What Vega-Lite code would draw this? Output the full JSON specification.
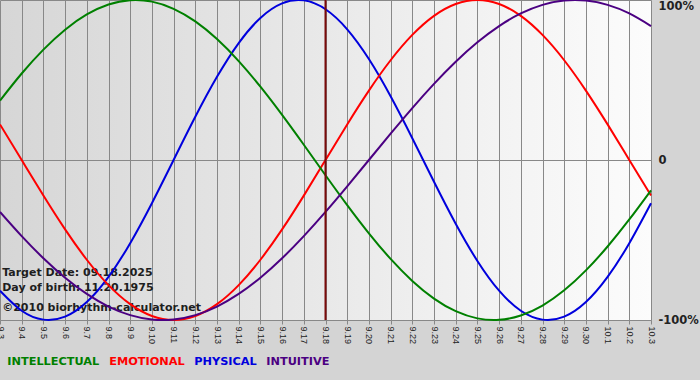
{
  "$schema": "https://vega.github.io/schema/vega-lite/v6.json",
  "width": 651,
  "height": 320,
  "autosize": {"type": "none"},
  "padding": {"left": 0, "top": 0, "right": 49, "bottom": 60},
  "background": "#d4d4d4",
  "config": {
    "view": {
      "stroke": null,
      "fill": {"gradient": "linear", "x1": 0, "y1": 0, "x2": 1, "y2": 0,
        "stops": [{"offset": 0, "color": "#d6d6d6"}, {"offset": 1, "color": "#fcfcfc"}]}
    },
    "axisX": {
      "labelAngle": 90, "labelFont": "Liberation Sans", "labelFontSize": 9, "labelColor": "#222222",
      "labelOverlap": false, "labelBound": false, "labelFlush": false, "labelPadding": 2,
      "tickSize": 4, "tickColor": "#888888", "domainColor": "#888888",
      "grid": true, "gridColor": "#888888", "gridOpacity": 1, "title": null
    },
    "axisY": {
      "labelFont": "DejaVu Sans", "labelFontWeight": "bold", "labelFontSize": 11.5, "labelColor": "#222222",
      "ticks": false, "domain": false, "labelPadding": 7, "labelFlush": false, "labelBound": false,
      "grid": true, "gridColor": "#888888", "gridOpacity": 1, "title": null
    }
  },
  "datasets": {
    "bio": [
      {"d":0,"s":"PHYSICAL","v":-0.817},{"d":1,"s":"PHYSICAL","v":-0.9423},{"d":2,"s":"PHYSICAL","v":-0.9977},{"d":3,"s":"PHYSICAL","v":-0.9791},{"d":4,"s":"PHYSICAL","v":-0.8879},{"d":5,"s":"PHYSICAL","v":-0.7308},{"d":6,"s":"PHYSICAL","v":-0.5196},{"d":7,"s":"PHYSICAL","v":-0.2698},{"d":8,"s":"PHYSICAL","v":0},{"d":9,"s":"PHYSICAL","v":0.2698},{"d":10,"s":"PHYSICAL","v":0.5196},{"d":11,"s":"PHYSICAL","v":0.7308},{"d":12,"s":"PHYSICAL","v":0.8879},{"d":13,"s":"PHYSICAL","v":0.9791},{"d":14,"s":"PHYSICAL","v":0.9977},{"d":15,"s":"PHYSICAL","v":0.9423},{"d":16,"s":"PHYSICAL","v":0.817},{"d":17,"s":"PHYSICAL","v":0.6311},{"d":18,"s":"PHYSICAL","v":0.3984},{"d":19,"s":"PHYSICAL","v":0.1362},{"d":20,"s":"PHYSICAL","v":-0.1362},{"d":21,"s":"PHYSICAL","v":-0.3984},{"d":22,"s":"PHYSICAL","v":-0.6311},{"d":23,"s":"PHYSICAL","v":-0.817},{"d":24,"s":"PHYSICAL","v":-0.9423},{"d":25,"s":"PHYSICAL","v":-0.9977},{"d":26,"s":"PHYSICAL","v":-0.9791},{"d":27,"s":"PHYSICAL","v":-0.8879},{"d":28,"s":"PHYSICAL","v":-0.7308},{"d":29,"s":"PHYSICAL","v":-0.5196},{"d":30,"s":"PHYSICAL","v":-0.2698},
      {"d":0,"s":"EMOTIONAL","v":0.2225},{"d":1,"s":"EMOTIONAL","v":0},{"d":2,"s":"EMOTIONAL","v":-0.2225},{"d":3,"s":"EMOTIONAL","v":-0.4339},{"d":4,"s":"EMOTIONAL","v":-0.6235},{"d":5,"s":"EMOTIONAL","v":-0.7818},{"d":6,"s":"EMOTIONAL","v":-0.901},{"d":7,"s":"EMOTIONAL","v":-0.9749},{"d":8,"s":"EMOTIONAL","v":-1},{"d":9,"s":"EMOTIONAL","v":-0.9749},{"d":10,"s":"EMOTIONAL","v":-0.901},{"d":11,"s":"EMOTIONAL","v":-0.7818},{"d":12,"s":"EMOTIONAL","v":-0.6235},{"d":13,"s":"EMOTIONAL","v":-0.4339},{"d":14,"s":"EMOTIONAL","v":-0.2225},{"d":15,"s":"EMOTIONAL","v":0},{"d":16,"s":"EMOTIONAL","v":0.2225},{"d":17,"s":"EMOTIONAL","v":0.4339},{"d":18,"s":"EMOTIONAL","v":0.6235},{"d":19,"s":"EMOTIONAL","v":0.7818},{"d":20,"s":"EMOTIONAL","v":0.901},{"d":21,"s":"EMOTIONAL","v":0.9749},{"d":22,"s":"EMOTIONAL","v":1},{"d":23,"s":"EMOTIONAL","v":0.9749},{"d":24,"s":"EMOTIONAL","v":0.901},{"d":25,"s":"EMOTIONAL","v":0.7818},{"d":26,"s":"EMOTIONAL","v":0.6235},{"d":27,"s":"EMOTIONAL","v":0.4339},{"d":28,"s":"EMOTIONAL","v":0.2225},{"d":29,"s":"EMOTIONAL","v":0},{"d":30,"s":"EMOTIONAL","v":-0.2225},
      {"d":0,"s":"INTELLECTUAL","v":0.3717},{"d":1,"s":"INTELLECTUAL","v":0.5406},{"d":2,"s":"INTELLECTUAL","v":0.6901},{"d":3,"s":"INTELLECTUAL","v":0.8146},{"d":4,"s":"INTELLECTUAL","v":0.9096},{"d":5,"s":"INTELLECTUAL","v":0.9718},{"d":6,"s":"INTELLECTUAL","v":0.9989},{"d":7,"s":"INTELLECTUAL","v":0.9898},{"d":8,"s":"INTELLECTUAL","v":0.945},{"d":9,"s":"INTELLECTUAL","v":0.866},{"d":10,"s":"INTELLECTUAL","v":0.7557},{"d":11,"s":"INTELLECTUAL","v":0.6182},{"d":12,"s":"INTELLECTUAL","v":0.4582},{"d":13,"s":"INTELLECTUAL","v":0.2817},{"d":14,"s":"INTELLECTUAL","v":0.0951},{"d":15,"s":"INTELLECTUAL","v":-0.0951},{"d":16,"s":"INTELLECTUAL","v":-0.2817},{"d":17,"s":"INTELLECTUAL","v":-0.4582},{"d":18,"s":"INTELLECTUAL","v":-0.6182},{"d":19,"s":"INTELLECTUAL","v":-0.7557},{"d":20,"s":"INTELLECTUAL","v":-0.866},{"d":21,"s":"INTELLECTUAL","v":-0.945},{"d":22,"s":"INTELLECTUAL","v":-0.9898},{"d":23,"s":"INTELLECTUAL","v":-0.9989},{"d":24,"s":"INTELLECTUAL","v":-0.9718},{"d":25,"s":"INTELLECTUAL","v":-0.9096},{"d":26,"s":"INTELLECTUAL","v":-0.8146},{"d":27,"s":"INTELLECTUAL","v":-0.6901},{"d":28,"s":"INTELLECTUAL","v":-0.5406},{"d":29,"s":"INTELLECTUAL","v":-0.3717},{"d":30,"s":"INTELLECTUAL","v":-0.1893},
      {"d":0,"s":"INTUITIVE","v":-0.3247},{"d":1,"s":"INTUITIVE","v":-0.4759},{"d":2,"s":"INTUITIVE","v":-0.6142},{"d":3,"s":"INTUITIVE","v":-0.7357},{"d":4,"s":"INTUITIVE","v":-0.8372},{"d":5,"s":"INTUITIVE","v":-0.9158},{"d":6,"s":"INTUITIVE","v":-0.9694},{"d":7,"s":"INTUITIVE","v":-0.9966},{"d":8,"s":"INTUITIVE","v":-0.9966},{"d":9,"s":"INTUITIVE","v":-0.9694},{"d":10,"s":"INTUITIVE","v":-0.9158},{"d":11,"s":"INTUITIVE","v":-0.8372},{"d":12,"s":"INTUITIVE","v":-0.7357},{"d":13,"s":"INTUITIVE","v":-0.6142},{"d":14,"s":"INTUITIVE","v":-0.4759},{"d":15,"s":"INTUITIVE","v":-0.3247},{"d":16,"s":"INTUITIVE","v":-0.1646},{"d":17,"s":"INTUITIVE","v":0},{"d":18,"s":"INTUITIVE","v":0.1646},{"d":19,"s":"INTUITIVE","v":0.3247},{"d":20,"s":"INTUITIVE","v":0.4759},{"d":21,"s":"INTUITIVE","v":0.6142},{"d":22,"s":"INTUITIVE","v":0.7357},{"d":23,"s":"INTUITIVE","v":0.8372},{"d":24,"s":"INTUITIVE","v":0.9158},{"d":25,"s":"INTUITIVE","v":0.9694},{"d":26,"s":"INTUITIVE","v":0.9966},{"d":27,"s":"INTUITIVE","v":0.9966},{"d":28,"s":"INTUITIVE","v":0.9694},{"d":29,"s":"INTUITIVE","v":0.9158},{"d":30,"s":"INTUITIVE","v":0.8372}
    ],
    "target": [{"d": 15}]
  },
  "layer": [
    {
      "data": {"values": [{"t": "Target Date: 09.18.2025"}]},
      "mark": {"type": "text", "align": "left", "baseline": "alphabetic", "font": "DejaVu Sans", "fontWeight": "bold", "fontSize": 11, "color": "#1e1e1e"},
      "encoding": {
        "x": {"datum": 0.1, "type": "quantitative", "scale": {"domain": [0, 30], "nice": false, "zero": false},
          "axis": {"values": [0,1,2,3,4,5,6,7,8,9,10,11,12,13,14,15,16,17,18,19,20,21,22,23,24,25,26,27,28,29,30],
            "labelExpr": "datum.value <= 27 ? '9.' + (datum.value + 3) : '10.' + (datum.value - 27)"}},
        "y": {"datum": -0.723, "type": "quantitative", "scale": {"domain": [-1, 1], "nice": false},
          "axis": {"orient": "right", "values": [-1, 0, 1],
            "labelExpr": "datum.value == 1 ? '100%' : (datum.value == 0 ? '0' : '-100%')",
            "labelBaseline": {"condition": {"test": "datum.value == 1", "value": "top"}, "value": "middle"}}},
        "text": {"field": "t"}
      }
    },
    {
      "data": {"values": [{"t": "Day of birth: 11.20.1975"}]},
      "mark": {"type": "text", "align": "left", "baseline": "alphabetic", "font": "DejaVu Sans", "fontWeight": "bold", "fontSize": 11, "color": "#1e1e1e"},
      "encoding": {
        "x": {"datum": 0.1, "type": "quantitative",
          "axis": {"values": [0,1,2,3,4,5,6,7,8,9,10,11,12,13,14,15,16,17,18,19,20,21,22,23,24,25,26,27,28,29,30],
            "labelExpr": "datum.value <= 27 ? '9.' + (datum.value + 3) : '10.' + (datum.value - 27)"}},
        "y": {"datum": -0.817, "type": "quantitative",
          "axis": {"orient": "right", "values": [-1, 0, 1],
            "labelExpr": "datum.value == 1 ? '100%' : (datum.value == 0 ? '0' : '-100%')",
            "labelBaseline": {"condition": {"test": "datum.value == 1", "value": "top"}, "value": "middle"}}},
        "text": {"field": "t"}
      }
    },
    {
      "data": {"values": [{"t": "©2010 biorhythm-calculator.net"}]},
      "mark": {"type": "text", "align": "left", "baseline": "alphabetic", "font": "DejaVu Sans", "fontWeight": "bold", "fontSize": 11, "color": "#1e1e1e"},
      "encoding": {
        "x": {"datum": 0.1, "type": "quantitative",
          "axis": {"values": [0,1,2,3,4,5,6,7,8,9,10,11,12,13,14,15,16,17,18,19,20,21,22,23,24,25,26,27,28,29,30],
            "labelExpr": "datum.value <= 27 ? '9.' + (datum.value + 3) : '10.' + (datum.value - 27)"}},
        "y": {"datum": -0.942, "type": "quantitative",
          "axis": {"orient": "right", "values": [-1, 0, 1],
            "labelExpr": "datum.value == 1 ? '100%' : (datum.value == 0 ? '0' : '-100%')",
            "labelBaseline": {"condition": {"test": "datum.value == 1", "value": "top"}, "value": "middle"}}},
        "text": {"field": "t"}
      }
    },
    {
      "data": {"name": "bio"},
      "mark": {"type": "line", "strokeWidth": 2, "interpolate": "natural"},
      "encoding": {
        "x": {
          "field": "d", "type": "quantitative",
          "scale": {"domain": [0, 30], "nice": false, "zero": false},
          "axis": {"values": [0,1,2,3,4,5,6,7,8,9,10,11,12,13,14,15,16,17,18,19,20,21,22,23,24,25,26,27,28,29,30],
            "labelExpr": "datum.value <= 27 ? '9.' + (datum.value + 3) : '10.' + (datum.value - 27)"}
        },
        "y": {
          "field": "v", "type": "quantitative",
          "scale": {"domain": [-1, 1], "nice": false},
          "axis": {"orient": "right", "values": [-1, 0, 1],
            "labelExpr": "datum.value == 1 ? '100%' : (datum.value == 0 ? '0' : '-100%')",
            "labelBaseline": {"condition": {"test": "datum.value == 1", "value": "top"}, "value": "middle"}}
        },
        "color": {
          "field": "s", "type": "nominal",
          "scale": {"domain": ["INTELLECTUAL", "EMOTIONAL", "PHYSICAL", "INTUITIVE"], "range": ["#008000", "#FF0000", "#0000DD", "#4B0082"]},
          "legend": {
            "orient": "none", "legendX": 7, "legendY": 356, "direction": "horizontal", "title": null, "padding": 0,
            "symbolType": "circle", "symbolSize": 1, "symbolOpacity": 0, "symbolStrokeWidth": 0, "labelOffset": -11, "columnPadding": 9,
            "labelFont": "DejaVu Sans", "labelFontWeight": "bold", "labelFontSize": 11.3,
            "encode": {"labels": {"update": {"fill": {"scale": "color", "field": "value"}}}}
          }
        }
      }
    },
    {
      "data": {"name": "target"},
      "mark": {"type": "rule", "color": "#7a0a0a", "strokeWidth": 2},
      "encoding": {"x": {"field": "d", "type": "quantitative",
        "axis": {"values": [0,1,2,3,4,5,6,7,8,9,10,11,12,13,14,15,16,17,18,19,20,21,22,23,24,25,26,27,28,29,30],
          "labelExpr": "datum.value <= 27 ? '9.' + (datum.value + 3) : '10.' + (datum.value - 27)"}}}
    }
  ]
}
